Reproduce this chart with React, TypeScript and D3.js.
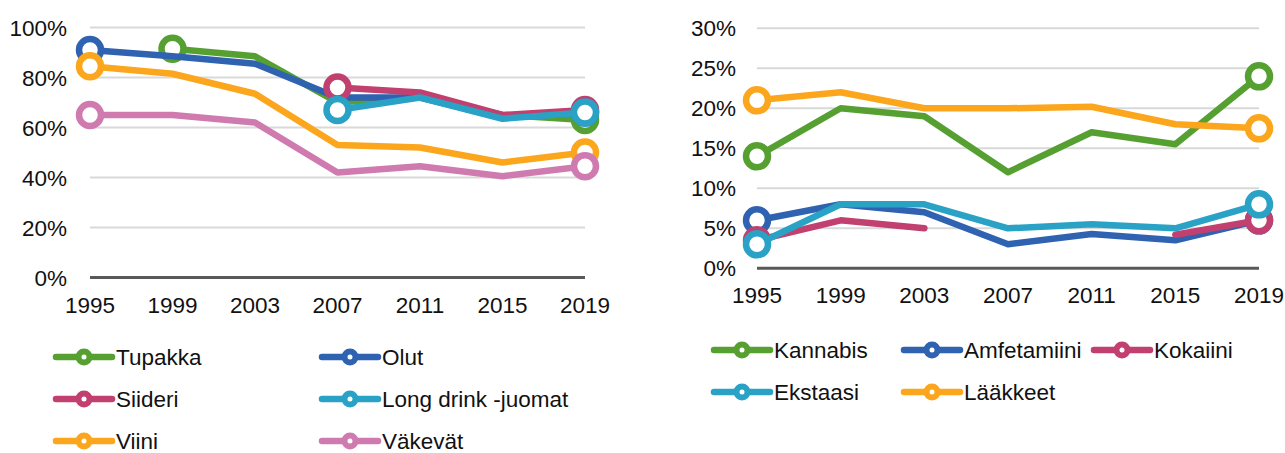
import React from 'react';
import * as d3 from 'd3';

const years = ['1995', '1999', '2003', '2007', '2011', '2015', '2019'];

// Left chart (alcohol & tobacco), %
const leftNames = ['Tupakka', 'Olut', 'Siideri', 'Long drink -juomat', 'Viini', 'Väkevät'];
const tupakka = [null, 91.5, 88.5, 70, 72.5, 65, 63];
const olut = [91, 88.5, 85.5, 72, 72, 64, 66];
const siideri = [null, null, null, 76, 74, 65, 67];
const longDrink = [null, null, null, 67, 72, 63.5, 66];
const viini = [84.5, 81.5, 73.5, 53, 52, 46, 50];
const vakevat = [65, 65, 62, 42, 44.5, 40.5, 44.5];
const leftTicks = [0, 20, 40, 60, 80, 100];

// Right chart (drugs), %
const rightNames = ['Kannabis', 'Amfetamiini', 'Kokaiini', 'Ekstaasi', 'Lääkkeet'];
const kannabis = [14, 20, 19, 12, 17, 15.5, 24];
const amfetamiini = [6, 8, 7, 3, 4.3, 3.5, 6];
const kokaiini = [3.5, 6, 5, null, null, 4.2, 6];
const ekstaasi = [3, 8, 8, 5, 5.5, 5, 8];
const laakkeet = [21, 22, 20, 20, 20.2, 18, 17.5];
const rightTicks = [0, 5, 10, 15, 20, 25, 30];

const GREEN = '#56a032';
const BLUE = '#2f62b0';
const CRIMSON = '#c1406f';
const CYAN = '#29a2c6';
const ORANGE = '#fba61c';
const PINK = '#cf7bb0';

const leftColors = [GREEN, BLUE, CRIMSON, CYAN, ORANGE, PINK];
const leftValues = [tupakka, olut, siideri, longDrink, viini, vakevat];
const rightColors = [GREEN, BLUE, CRIMSON, CYAN, ORANGE];
const rightValues = [kannabis, amfetamiini, kokaiini, ekstaasi, laakkeet];

const FONT = '"Liberation Sans", Arial, sans-serif';
const FS = 22.5;
const LW = 6.5;

type ChartProps = {
  values: (number | null)[][];
  colors: string[];
  ticks: number[];
  x0: number;
  x1: number;
  yTop: number;
  yBottom: number;
  labelRight: number;
  xLabelY: number;
};

function Chart({ values, colors, ticks, x0, x1, yTop, yBottom, labelRight, xLabelY }: ChartProps) {
  const x = d3.scalePoint<string>().domain(years).range([x0, x1]);
  const y = d3.scaleLinear().domain([0, d3.max(ticks) as number]).range([yBottom, yTop]);
  const line = d3
    .line<number | null>()
    .defined((d) => d !== null)
    .x((_, i) => x(years[i]) as number)
    .y((d) => y(d as number));
  return (
    <g>
      {ticks.map((t) => (
        <g key={t}>
          {t !== 0 && (
            <line x1={x0} x2={x1} y1={y(t)} y2={y(t)} stroke="#d9d9d9" strokeWidth={2} />
          )}
          <text
            x={labelRight}
            y={y(t)}
            dy="0.36em"
            textAnchor="end"
            fontFamily={FONT}
            fontSize={FS}
            fill="#111"
          >
            {t}%
          </text>
        </g>
      ))}
      <line x1={x0} x2={x1} y1={y(0)} y2={y(0)} stroke="#595959" strokeWidth={3} />
      {years.map((yr) => (
        <text
          key={yr}
          x={x(yr)}
          y={xLabelY}
          dy="0.36em"
          textAnchor="middle"
          fontFamily={FONT}
          fontSize={FS}
          fill="#111"
        >
          {yr}
        </text>
      ))}
      {values.map((vals, si) => {
        const idx = vals.map((v, i) => (v === null ? -1 : i)).filter((i) => i >= 0);
        const ends = [idx[0], idx[idx.length - 1]];
        return (
          <g key={si}>
            <path
              d={line(vals) || ''}
              fill="none"
              stroke={colors[si]}
              strokeWidth={LW}
              strokeLinejoin="round"
              strokeLinecap="round"
            />
            {ends.map((i) => (
              <circle
                key={i}
                cx={x(years[i])}
                cy={y(vals[i] as number)}
                r={11}
                fill="#fff"
                stroke={colors[si]}
                strokeWidth={LW}
              />
            ))}
          </g>
        );
      })}
    </g>
  );
}

function LegendItem({ x, y, color, label }: { x: number; y: number; color: string; label: string }) {
  return (
    <g>
      <line x1={x} x2={x + 56} y1={y} y2={y} stroke={color} strokeWidth={LW} strokeLinecap="round" />
      <circle cx={x + 28} cy={y} r={5.5} fill="#fff" stroke={color} strokeWidth={6} />
      <text x={x + 60} y={y} dy="0.36em" fontFamily={FONT} fontSize={FS} fill="#111">
        {label}
      </text>
    </g>
  );
}

export default function App() {
  const leftLegendPos = [
    [56, 357],
    [322, 357],
    [56, 399],
    [322, 399],
    [56, 441],
    [322, 441],
  ];
  const rightLegendPos = [
    [714, 350],
    [904, 350],
    [1094, 350],
    [714, 392],
    [904, 392],
  ];
  return (
    <svg
      width={1285}
      height={453}
      style={{ position: 'absolute', left: 0, top: 0, background: '#fff' }}
    >
      <Chart
        values={leftValues}
        colors={leftColors}
        ticks={leftTicks}
        x0={90}
        x1={585}
        yTop={27.5}
        yBottom={277.5}
        labelRight={67}
        xLabelY={305}
      />
      <Chart
        values={rightValues}
        colors={rightColors}
        ticks={rightTicks}
        x0={757}
        x1={1259}
        yTop={28.3}
        yBottom={268.3}
        labelRight={736}
        xLabelY={295}
      />
      {leftNames.map((n, i) => (
        <LegendItem key={n} x={leftLegendPos[i][0]} y={leftLegendPos[i][1]} color={leftColors[i]} label={n} />
      ))}
      {rightNames.map((n, i) => (
        <LegendItem key={n} x={rightLegendPos[i][0]} y={rightLegendPos[i][1]} color={rightColors[i]} label={n} />
      ))}
    </svg>
  );
}
